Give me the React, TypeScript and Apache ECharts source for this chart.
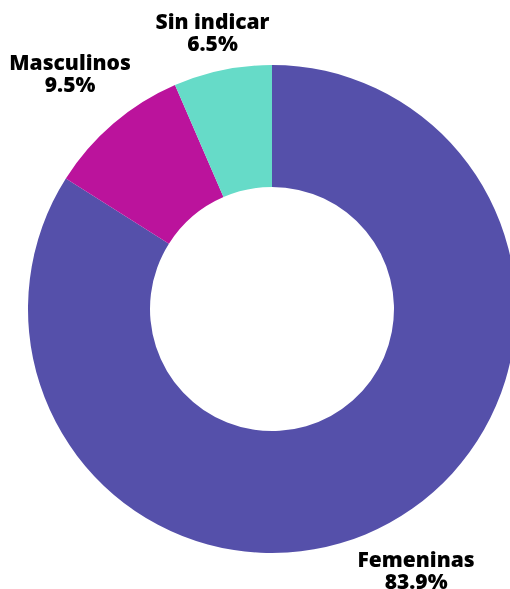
import React, { useEffect, useRef } from "react";
import * as echarts from "echarts";

const categories = ["Femeninas", "Masculinos", "Sin indicar"];
const values = [83.9, 9.5, 6.5];
const colors = ["#5550aa", "#bb139c", "#66dbc8"];
// small label nudges (px) per category
const labelDx = [-2, -5, 2];
const labelDy = [-4, -6, 20];

export default function App() {
  const ref = useRef<HTMLDivElement>(null);
  useEffect(() => {
    if (!ref.current) return;
    const chart = echarts.init(ref.current, undefined, { renderer: "svg" });
    const data = categories.map((name, i) => ({ name, value: values[i] }));
    chart.setOption({
      animation: false,
      color: colors,
      series: [
        {
          type: "pie",
          center: [272, 309],
          radius: [122, 244],
          startAngle: 90,
          clockwise: true,
          silent: true,
          label: { show: false },
          labelLine: { show: false },
          itemStyle: { borderWidth: 0 },
          data,
        },
        {
          type: "pie",
          center: [272, 309],
          radius: [282, 318],
          startAngle: 90,
          clockwise: true,
          silent: true,
          itemStyle: { color: "transparent" },
          labelLine: { show: false },
          label: {
            show: true,
            position: "inside",
            formatter: (p: any) => `${p.name}\n${p.value}%`,
            color: "#000",
            fontFamily: "Open Sans",
            fontWeight: 800,
            fontSize: 21,
            lineHeight: 22,
            align: "center",
          },
          labelLayout: (p: any) => ({
            dx: labelDx[p.dataIndex],
            dy: labelDy[p.dataIndex],
          }),
          data,
        },
      ],
    });
    return () => chart.dispose();
  }, []);
  return (
    <div
      ref={ref}
      style={{ position: "fixed", left: 0, top: 0, width: 510, height: 589 }}
    />
  );
}
